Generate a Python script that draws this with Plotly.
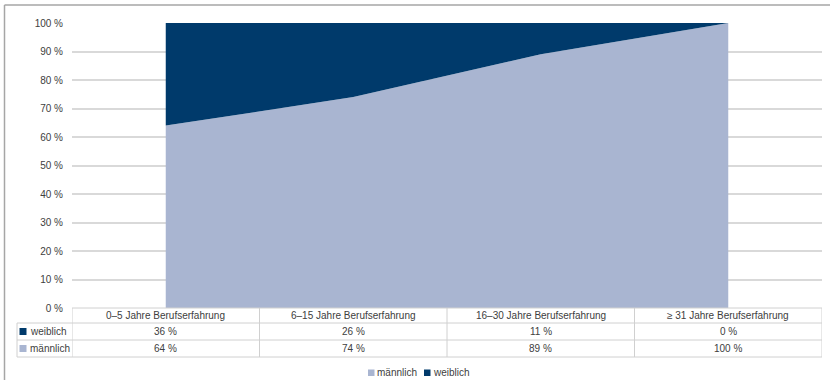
import plotly.graph_objects as go

categories = ["0–5 Jahre Berufserfahrung", "6–15 Jahre Berufserfahrung",
              "16–30 Jahre Berufserfahrung", "≥ 31 Jahre Berufserfahrung"]
weiblich = [36, 26, 11, 0]
maennlich = [64, 74, 89, 100]
y_ticks = list(range(0, 101, 10))
y_tick_labels = [f"{v} %" for v in y_ticks]

W, H = 830, 380
DARK = "#003A6B"
LIGHT = "#A9B5D1"
GRID = "#D9D9D9"
TABLE_LINE = "#D0D0D0"
TEXT = "#404040"
FONT = "Liberation Sans, Arial, sans-serif"

# plot area in pixels
PX_LEFT, PX_RIGHT = 72, 822
PX_TOP, PX_BOTTOM = 23, 308


def px_x(p):
    return p / W


def px_y(p):
    return 1 - p / H


xs = list(range(len(categories)))

fig = go.Figure()
fig.add_trace(go.Scatter(x=xs, y=maennlich, name="männlich", mode="lines",
                         stackgroup="one", line=dict(width=0, color=LIGHT),
                         fillcolor=LIGHT, showlegend=False, hoverinfo="skip"))
fig.add_trace(go.Scatter(x=xs, y=weiblich, name="weiblich", mode="lines",
                         stackgroup="one", line=dict(width=0, color=DARK),
                         fillcolor=DARK, showlegend=False, hoverinfo="skip"))

shapes = []
annotations = []

# outer frame (left and top edges)
shapes.append(dict(type="line", xref="paper", yref="paper",
                   x0=px_x(4.5), x1=px_x(4.5), y0=px_y(5), y1=0,
                   line=dict(color="#A6A6A6", width=1.5)))
shapes.append(dict(type="line", xref="paper", yref="paper",
                   x0=px_x(4.5), x1=1, y0=px_y(5), y1=px_y(5),
                   line=dict(color="#A6A6A6", width=1.5)))

# data table below the plot
ROW_TOP, ROW_H1, ROW_H2, ROW_BOT = 308, 323, 340, 357
LABEL_LEFT = 17
n = len(categories)
for i in range(n + 1):
    shapes.append(dict(type="line", xref="x", yref="paper",
                       x0=i - 0.5, x1=i - 0.5, y0=px_y(ROW_TOP), y1=px_y(ROW_BOT),
                       line=dict(color=TABLE_LINE, width=1)))
shapes.append(dict(type="line", xref="paper", yref="paper",
                   x0=px_x(LABEL_LEFT), x1=px_x(LABEL_LEFT), y0=px_y(ROW_H1), y1=px_y(ROW_BOT),
                   line=dict(color=TABLE_LINE, width=1)))
shapes.append(dict(type="line", xref="x", yref="paper",
                   x0=-0.5, x1=n - 0.5, y0=px_y(ROW_TOP), y1=px_y(ROW_TOP),
                   line=dict(color=TABLE_LINE, width=1)))
for yy in (ROW_H1, ROW_H2, ROW_BOT):
    shapes.append(dict(type="line", xref="paper", yref="paper",
                       x0=px_x(LABEL_LEFT), x1=px_x(PX_RIGHT), y0=px_y(yy), y1=px_y(yy),
                       line=dict(color=TABLE_LINE, width=1)))

rows = [("weiblich", weiblich, DARK, ROW_H1, ROW_H2),
        ("männlich", maennlich, LIGHT, ROW_H2, ROW_BOT)]
for i, cat in enumerate(categories):
    annotations.append(dict(x=i, y=px_y((ROW_TOP + ROW_H1) / 2), xref="x", yref="paper",
                            text=cat, showarrow=False, xanchor="center", yanchor="middle",
                            font=dict(size=10, color=TEXT, family=FONT)))
for label, vals, col, top, bot in rows:
    mid = (top + bot) / 2
    shapes.append(dict(type="rect", xref="paper", yref="paper",
                       x0=px_x(19.5), x1=px_x(26.5), y0=px_y(mid + 3.5), y1=px_y(mid - 3.5),
                       fillcolor=col, line=dict(width=0)))
    annotations.append(dict(x=px_x(27.5), y=px_y(mid), xref="paper", yref="paper",
                            text=label, showarrow=False, xanchor="left", yanchor="middle",
                            font=dict(size=10, color=TEXT, family=FONT)))
    for i, v in enumerate(vals):
        annotations.append(dict(x=i, y=px_y(mid), xref="x", yref="paper",
                                text=f"{v} %", showarrow=False, xanchor="center", yanchor="middle",
                                font=dict(size=10, color=TEXT, family=FONT)))

# legend below the table
LEG_Y = 372.5
legend_items = [("männlich", LIGHT, 368), ("weiblich", DARK, 424)]
for label, col, x0 in legend_items:
    shapes.append(dict(type="rect", xref="paper", yref="paper",
                       x0=px_x(x0), x1=px_x(x0 + 6.5), y0=px_y(LEG_Y + 3.5), y1=px_y(LEG_Y - 3),
                       fillcolor=col, line=dict(width=0)))
    annotations.append(dict(x=px_x(x0 + 7), y=px_y(LEG_Y), xref="paper", yref="paper",
                            text=label, showarrow=False, xanchor="left", yanchor="middle",
                            font=dict(size=10, color=TEXT, family=FONT)))

fig.update_layout(
    width=W, height=H,
    margin=dict(l=0, r=0, t=0, b=0, pad=0, autoexpand=False),
    paper_bgcolor="white", plot_bgcolor="white",
    font=dict(family=FONT, size=10, color=TEXT),
    showlegend=False,
    xaxis=dict(domain=[px_x(PX_LEFT), px_x(PX_RIGHT)], range=[-0.5, n - 0.5],
               showgrid=False, showticklabels=False, zeroline=False, showline=False,
               automargin=False, fixedrange=True),
    yaxis=dict(domain=[px_y(PX_BOTTOM), px_y(PX_TOP)], range=[0, 100],
               tickvals=y_ticks, ticktext=y_tick_labels, showgrid=True,
               gridcolor=GRID, gridwidth=1.5, zeroline=False, showline=False,
               ticks="", ticklabelstandoff=8, tickfont=dict(size=10, color=TEXT, family=FONT),
               automargin=False, fixedrange=True),
    shapes=shapes,
    annotations=annotations,
)

fig.write_html("out.html")
